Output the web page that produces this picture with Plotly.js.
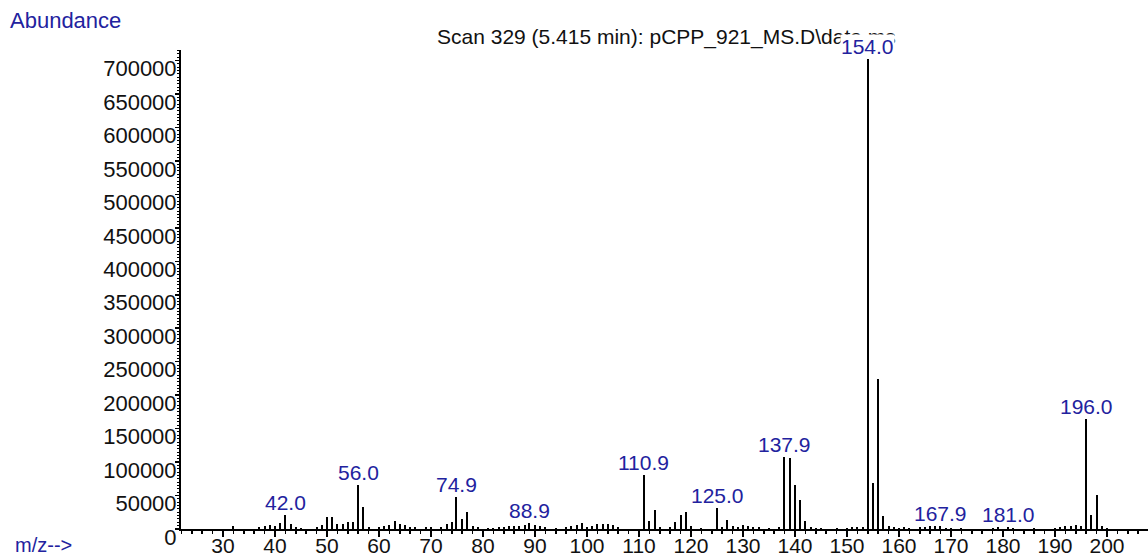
<!DOCTYPE html>
<html><head><meta charset="utf-8">
<script src="https://cdn.plot.ly/plotly-3.0.1.min.js"></script>
<style>html,body{margin:0;padding:0;background:#fff}#chart{width:1148px;height:557px}</style>
</head><body><div id="chart"></div><script>
// ---- data ----
const mz = [32,37,38,39,40,41,42.0,43,44,45,48,49,50,51,52,53,54,55,56.0,57,58,60,61,62,63,64,65,66,67,69,70,72,73,74,74.9,76,77,78,79,81,82,83,84,85,86,87,88,88.9,90,91,92,94,96,97,98,99,100,101,102,103,104,105,106,110.9,112,113,114,116,117,118,119,120,122,125.0,126,127,128,129,130,131,132,133,135,137,137.9,139,140,141,142,143,144,145,148,150,151,152,153,154.0,155,156,157,158,159,160,161,162,164,165,166,167,167.9,169,170,172,178,179,181.0,182,186,190,191,192,193,194,195,196.0,197,198,199,200];
const abundance = [4000,3000,4500,6000,4000,9000,21600,7500,3500,2000,2500,6000,18400,17700,8000,7000,10000,10000,66300,33400,3500,3000,4500,6000,12500,8000,6000,3500,2500,3000,3000,3000,7500,10000,48300,15000,24900,5000,3000,2000,2000,3000,3000,4500,4500,4000,6000,9000,6000,4500,3000,2000,3000,4000,5500,8500,3500,4500,7000,7000,7000,5500,3000,81200,12500,28400,3500,2500,10000,21400,24900,5000,2000,31400,3500,13500,5000,3500,6000,5000,3500,3000,2000,2500,107000,106000,66200,43300,12500,3500,2000,2000,1500,2000,2500,3000,3500,703000,68500,224400,20000,4500,3000,2000,2500,1500,2500,3000,4000,4000,4000,2000,1500,1500,1500,2500,3500,1500,1500,2000,3500,4000,4500,6000,4000,164600,20500,50500,5000,1500];
const labelMz = [42.0,56.0,74.9,88.9,110.9,125.0,137.9,154.0,167.9,181.0,196.0];
const yTickVals = [0,50000,100000,150000,200000,250000,300000,350000,400000,450000,500000,550000,600000,650000,700000];
const xTickVals = [30,40,50,60,70,80,90,100,110,120,130,140,150,160,170,180,190,200];
const titleText = "Scan 329 (5.415 min): pCPP_921_MS.D\\data.ms";
const yAxisText = "Abundance";
const xAxisText = "m/z-->";

// ---- layout helpers ----
const W = 1148, H = 557, L = 181, R = 0, T = 50, B = 28;
const FONT = "Liberation Sans, Arial, sans-serif";
const BLUE = "#22229e";
const px2x = p => (p - L) / (W - L - R);
const py2y = p => (H - B - p) / (H - T - B);

const labelAnns = labelMz.map(m => {
  const i = mz.indexOf(m);
  return {
    x: m, y: abundance[i], xref: 'x', yref: 'y',
    text: m.toFixed(1), showarrow: false,
    xanchor: 'center', yanchor: 'bottom', yshift: 0,
    font: {family: FONT, size: 21, color: BLUE},
    bgcolor: m === 154.0 ? '#ffffff' : 'rgba(0,0,0,0)',
    borderpad: 0
  };
});

const trace = {
  type: 'bar', x: mz, y: abundance, width: 0.38,
  marker: {color: '#000000', line: {width: 0}},
  hoverinfo: 'x+y'
};

const layout = {
  width: W, height: H,
  margin: {l: L, r: R, t: T, b: B, pad: 0},
  paper_bgcolor: '#ffffff', plot_bgcolor: '#ffffff',
  showlegend: false, bargap: 0,
  font: {family: FONT, size: 21, color: '#111111'},
  title: {text: titleText, xref: 'container', yref: 'container',
          x: 437 / W, xanchor: 'left', y: 1 - 37 / H, yanchor: 'middle',
          font: {family: FONT, size: 21, color: '#111111'}},
  xaxis: {
    range: [30 - 42 / 5.2, 30 + 925 / 5.2],
    tickmode: 'array', tickvals: xTickVals, ticktext: xTickVals.map(String),
    ticks: 'outside', ticklen: 6, tickwidth: 1.5, tickcolor: '#000',
    minor: {dtick: 2, tick0: 0, ticks: 'outside', ticklen: 3, tickwidth: 1.5, tickcolor: '#000'},
    showline: true, linecolor: '#000', linewidth: 2,
    showgrid: false, zeroline: false,
    ticklabelstandoff: -9,
    tickfont: {family: FONT, size: 21, color: '#111111'}
  },
  yaxis: {
    range: [0, (H - B - T) * 50000 / 33.46],
    tickmode: 'array', tickvals: yTickVals, ticktext: yTickVals.map(String),
    ticks: 'outside', ticklen: 4, tickwidth: 1.5, tickcolor: '#000',
    minor: {dtick: 5000, tick0: 0, ticks: 'outside', ticklen: 2, tickwidth: 1, tickcolor: '#000'},
    showline: true, linecolor: '#000', linewidth: 2,
    showgrid: false, zeroline: false,
    ticklabelshift: 8, ticklabelstandoff: -6,
    tickfont: {family: FONT, size: 22, color: '#111111'}
  },
  annotations: [
    {xref: 'paper', yref: 'paper', x: px2x(8), y: py2y(20), xanchor: 'left', yanchor: 'middle',
     text: yAxisText, showarrow: false, font: {family: FONT, size: 22, color: BLUE}},
    {xref: 'paper', yref: 'paper', x: px2x(13), y: py2y(545), xanchor: 'left', yanchor: 'middle',
     text: xAxisText, showarrow: false, font: {family: FONT, size: 20, color: BLUE}}
  ].concat(labelAnns)
};

Plotly.newPlot('chart', [trace], layout, {staticPlot: true, displayModeBar: false});
</script></body></html>
